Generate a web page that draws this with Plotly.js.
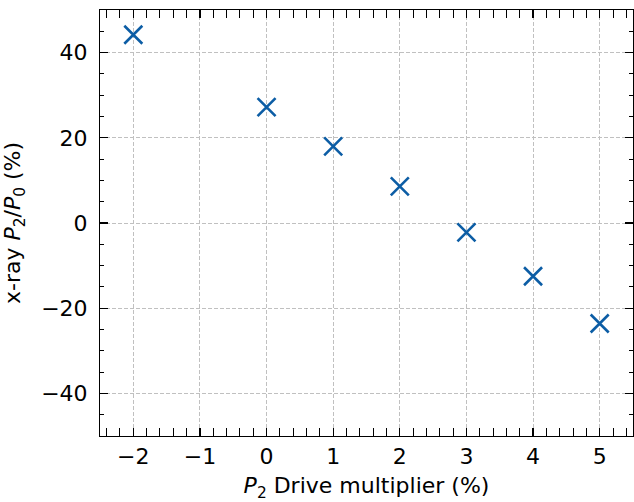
<!DOCTYPE html>
<html><head><meta charset="utf-8">
<script src="https://cdn.plot.ly/plotly-3.0.1.min.js"></script>
<style>body{margin:0;padding:0;background:#fff}</style>
</head><body>
<div id="chart" style="width:634px;height:502px"></div>
<script>
const driveMultiplier = [-2, 0, 1, 2, 3, 4, 5];
const xrayP2P0 = [44.2, 27.2, 18.0, 8.6, -2.2, -12.5, -23.6];
const xTickVals = [-2, -1, 0, 1, 2, 3, 4, 5];
const yTickVals = [-40, -20, 0, 20, 40];
const yTickText = ['\u221240', '\u221220', '0', '20', '40'];
const xTickText = ['\u22122', '\u22121', '0', '1', '2', '3', '4', '5'];

const font = {family: 'DejaVu Sans, sans-serif', size: 22, color: '#000'};
const axisCommon = {
  showline: true, linecolor: '#000', linewidth: 1.2, mirror: 'allticks',
  ticks: 'inside', ticklen: 8, tickwidth: 1.2, tickcolor: '#000',
  showgrid: true, gridcolor: '#c0c0c0', griddash: '4px,2px', gridwidth: 1,
  zeroline: false, tickfont: font,
  minor: {ticks: 'inside', ticklen: 4, tickwidth: 1, tickcolor: '#000', showgrid: false}
};
const trace = {
  x: driveMultiplier, y: xrayP2P0, type: 'scatter', mode: 'markers',
  marker: {symbol: 'x-thin-open', size: 18, color: '#0C5DA5', line: {width: 2.6, color: '#0C5DA5'}},
  cliponaxis: false
};
// invisible trace to activate label axis
const labelTrace = {x: [null], y: [null], yaxis: 'y2', type: 'scatter', mode: 'markers', hoverinfo: 'skip', showlegend: false};
const layout = {
  width: 634, height: 502,
  margin: {l: 100, r: 1, t: 10, b: 66},
  paper_bgcolor: '#fff', plot_bgcolor: '#fff',
  showlegend: false, font: font,
  xaxis: Object.assign({}, axisCommon, {
    range: [-2.5, 5.5], tickvals: xTickVals, ticktext: xTickText,
    minor: Object.assign({}, axisCommon.minor, {dtick: 0.2, tick0: 0}),
    title: {text: '<i>P</i><sub>2</sub> Drive multiplier (%)', font: font, standoff: 17}
  }),
  yaxis: Object.assign({}, axisCommon, {
    range: [-50, 50], tickvals: yTickVals, showticklabels: false,
    minor: Object.assign({}, axisCommon.minor, {dtick: 5, tick0: 0})
  }),
  yaxis2: {
    overlaying: 'y', anchor: 'free', position: 7 / 533, side: 'left',
    range: [-50, 50], tickvals: yTickVals, ticktext: yTickText, tickfont: font,
    showline: false, showgrid: false, zeroline: false,
    ticks: 'outside', ticklen: 15, tickcolor: 'rgba(0,0,0,0)',
    title: {text: 'x-ray <i>P</i><sub>2</sub>/<i>P</i><sub>0</sub> (%)', font: font, standoff: 13}
  }
};
Plotly.newPlot('chart', [trace, labelTrace], layout, {staticPlot: true, displayModeBar: false});
</script>
</body></html>
